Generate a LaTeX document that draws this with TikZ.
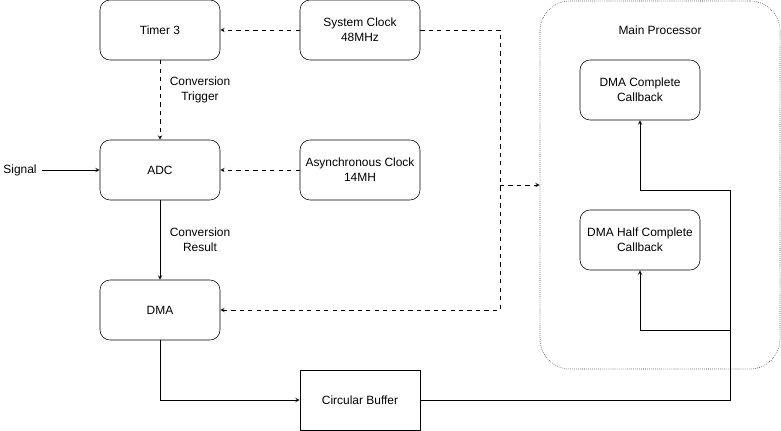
\documentclass[tikz,border=0pt]{standalone}
\usepackage{fontspec}
\setmainfont{Liberation Sans}
\usetikzlibrary{arrows}
\begin{document}
\begin{tikzpicture}[
            font=\fontsize{8.5}{10.5}\selectfont,
            block/.style={draw, rounded corners=0.25cm, minimum width=3cm, minimum height=1.5cm, align=center, thin},
            buffer/.style={draw, minimum width=3cm, minimum height=1.5cm, thin},
            container/.style={draw=black!85, densely dotted, rounded corners=0.75cm, minimum width=6cm, minimum height=9.2cm},
            flow/.style={-stealth, thin},
            clk/.style={-stealth, thin, dashed},
        ]
        \useasboundingbox (0,0) rectangle (19.525,-10.775);

        \node[container] (proc) at (16.5,-4.625) {};
        \node (proclabel) at (16.5,-0.75) {Main Processor};

        \node[block] (timer) at (4,-0.75) {Timer 3};
        \node[block] (sysclk) at (9,-0.75) {System Clock\\48MHz};
        \node[block] (adc) at (4,-4.25) {ADC};
        \node[block] (asyclk) at (9,-4.25) {Asynchronous Clock\\14MH};
        \node[block] (dma) at (4,-7.75) {DMA};
        \node[buffer] (buf) at (9,-10) {Circular Buffer};
        \node[block] (done) at (16,-2.25) {DMA Complete\\Callback};
        \node[block] (half) at (16,-6) {DMA Half Complete\\Callback};

        \node (signal) at (0.5,-4.25) {Signal};
        \node[align=center] (trig) at (5,-2.25) {Conversion\\Trigger};
        \node[align=center] (res) at (5,-6) {Conversion\\Result};

        \coordinate (split) at (12.5,-4.625);
        \coordinate (hbend) at (18.25,-8.25);
        \coordinate (cbend) at (18.25,-4.75);

        \draw[clk] (sysclk) -- (timer);
        \draw[clk] (asyclk) -- (adc);
        \draw[clk] (timer) -- (adc);
        \draw[clk] (sysclk.east) -| (split) |- (dma.east);
        \draw[clk] (split) -- (proc.west);

        \draw[flow] (signal) -- (adc);
        \draw[flow] (adc) -- (dma);
        \draw[flow] (dma.south) |- (buf.west);
        \draw[flow] (buf.east) -| (hbend) -| (half.south);
        \draw[flow] (hbend) -- (cbend) -| (done.south);
    \end{tikzpicture}
\end{document}
